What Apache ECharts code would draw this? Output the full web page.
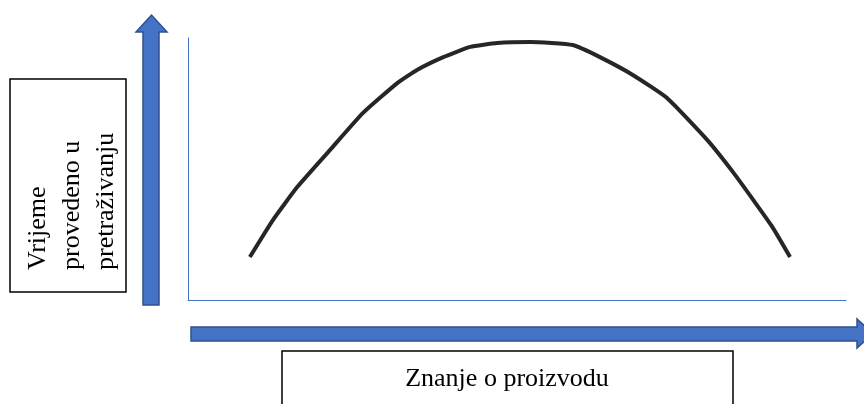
<!DOCTYPE html>
<html>
<head>
<meta charset="utf-8">
<script src="https://cdn.jsdelivr.net/npm/echarts@6/dist/echarts.min.js"></script>
<style>
  html, body { margin: 0; padding: 0; background: #fff; }
  #chart { width: 864px; height: 404px; }
</style>
</head>
<body>
<div id="chart"></div>
<script>
    // krivulja (x: znanje, y: vrijeme), skala 0-100
    var curveX = [9.4, 12.9, 16.6, 21.6, 26.6, 31.8, 34.8, 38.8, 42.9, 47.0, 52.0, 58.5, 62.6, 67.6, 72.8, 78.9, 82.8, 85.9, 88.8, 91.5];
    var curveY = [16.4, 30.5, 43.1, 57.3, 71.4, 82.8, 87.8, 92.7, 96.6, 98.1, 98.5, 97.3, 92.7, 85.9, 77.1, 61.1, 48.9, 38.2, 27.9, 16.4];
    var yTitle = ['Vrijeme', 'provedeno u', 'pretraživanju'];
    var xTitle = 'Znanje o proizvodu';

    var blue = '#4472C4',
        blueDark = '#2F528F',
        serif = '"Liberation Serif", "Times New Roman", serif';

    var data = [];
    curveX.forEach(function(v, k) {
        data.push([v, curveY[k]]);
    });

    var chart = echarts.init(document.getElementById('chart'), null, { renderer: 'canvas' });
    chart.setOption({
        animation: false,
        backgroundColor: '#fff',
        grid: {
            left: 188,
            top: 38,
            width: 658,
            height: 262
        },
        xAxis: {
            type: 'value',
            min: 0,
            max: 100,
            axisLine: { show: true, lineStyle: { color: blue, width: 1 } },
            axisTick: { show: false },
            axisLabel: { show: false },
            splitLine: { show: false }
        },
        yAxis: {
            type: 'value',
            min: 0,
            max: 100,
            axisLine: { show: true, lineStyle: { color: blue, width: 1 } },
            axisTick: { show: false },
            axisLabel: { show: false },
            splitLine: { show: false }
        },
        series: [{
            type: 'line',
            data: data,
            smooth: 0.15,
            symbol: 'none',
            lineStyle: { color: '#262626', width: 4, cap: 'butt', join: 'round' }
        }],
        graphic: [
            // okomita strelica
            {
                type: 'polygon',
                shape: { points: [[143, 305], [159, 305], [159, 32], [167, 32], [151.5, 15], [136, 32], [143, 32]] },
                style: { fill: blue, stroke: blueDark, lineWidth: 1.5 }
            },
            // vodoravna strelica
            {
                type: 'polygon',
                shape: { points: [[191, 327], [857, 327], [857, 319], [873, 333.5], [857, 348], [857, 341], [191, 341]] },
                style: { fill: blue, stroke: blueDark, lineWidth: 1.5 }
            },
            // lijevi okvir
            {
                type: 'rect',
                shape: { x: 10, y: 79, width: 116, height: 213 },
                style: { fill: '#fff', stroke: '#000', lineWidth: 1.5 }
            },
            {
                type: 'text',
                x: 21,
                y: 270,
                rotation: Math.PI / 2,
                style: {
                    text: yTitle.join('\n'),
                    font: '26px ' + serif,
                    lineHeight: 34,
                    fill: '#000',
                    align: 'left',
                    verticalAlign: 'top'
                }
            },
            // donji okvir
            {
                type: 'rect',
                shape: { x: 282, y: 351, width: 451, height: 80 },
                style: { fill: '#fff', stroke: '#000', lineWidth: 1.5 }
            },
            {
                type: 'text',
                x: 507,
                y: 379,
                style: {
                    text: xTitle,
                    font: '26px ' + serif,
                    fill: '#000',
                    align: 'center',
                    verticalAlign: 'middle'
                }
            }
        ]
    });
</script>
</body>
</html>
